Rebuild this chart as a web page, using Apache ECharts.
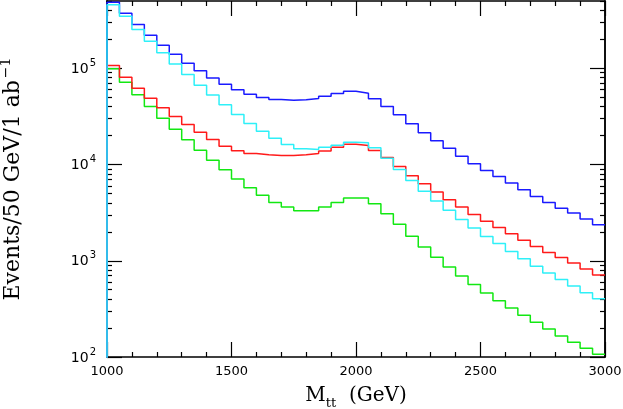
<!DOCTYPE html>
<html>
<head>
<meta charset="utf-8">
<script src="https://cdn.jsdelivr.net/npm/echarts@6/dist/echarts.min.js"></script>
<style>
  html, body { margin: 0; padding: 0; background: #fff; }
  #main { width: 623px; height: 409px; }
</style>
</head>
<body>
<div id="main"></div>
<script>
// bins: 50 GeV wide, from 1000 to 3000 GeV
var binStart = 1000;
var binWidth = 50;

var blueVals = [4.86e5, 3.73e5, 2.85e5, 2.21e5, 1.73e5, 1.40e5, 1.13e5, 9.4e4, 7.9e4, 6.84e4,
    5.98e4, 5.38e4, 4.98e4, 4.74e4, 4.66e4, 4.70e4, 4.86e4, 5.13e4, 5.47e4, 5.78e4,
    5.51e4, 4.82e4, 4.01e4, 3.29e4, 2.65e4, 2.14e4, 1.77e4, 1.48e4, 1.22e4, 1.02e4,
    8680, 7520, 6410, 5470, 4660, 4040, 3520, 3130, 2710, 2370];
var cyanVals = [4.56e5, 3.48e5, 2.53e5, 1.91e5, 1.45e5, 1.11e5, 8.63e4, 6.68e4, 5.26e4, 4.18e4,
    3.31e4, 2.67e4, 2.21e4, 1.87e4, 1.61e4, 1.46e4, 1.43e4, 1.51e4, 1.59e4, 1.70e4,
    1.68e4, 1.49e4, 1.16e4, 8890, 6840, 5290, 4170, 3340, 2690, 2190,
    1790, 1510, 1250, 1050, 875, 745, 637, 546, 466, 404];
var redVals = [1.07e5, 8.09e4, 6.21e4, 4.89e4, 3.89e4, 3.16e4, 2.61e4, 2.17e4, 1.82e4, 1.55e4,
    1.39e4, 1.30e4, 1.26e4, 1.24e4, 1.24e4, 1.26e4, 1.30e4, 1.38e4, 1.51e4, 1.62e4,
    1.58e4, 1.40e4, 1.18e4, 9550, 7650, 6320, 5170, 4310, 3610, 3030,
    2570, 2210, 1910, 1630, 1410, 1220, 1080, 946, 820, 711];
var greenVals = [9.88e4, 7.17e4, 5.31e4, 4.01e4, 3.03e4, 2.33e4, 1.81e4, 1.41e4, 1.11e4, 8830,
    7050, 5740, 4780, 4040, 3610, 3310, 3310, 3610, 4040, 4480,
    4480, 3920, 3080, 2390, 1800, 1390, 1090, 860, 693, 565,
    462, 385, 323, 271, 229, 195, 165, 142, 123, 107];

var yMajor = [100, 1000, 10000, 100000];
var yMinor = [200, 300, 400, 500, 600, 700, 800, 900,
    2000, 3000, 4000, 5000, 6000, 7000, 8000, 9000,
    20000, 30000, 40000, 50000, 60000, 70000, 80000, 90000,
    200000, 300000, 400000, 500000];

// histogram as step line: starts from below the axis so the left edge is drawn
function histData(vals) {
    var pts = [[binStart, 1]];
    for (var i = 0; i < vals.length; i++) {
        pts.push([binStart + i * binWidth, vals[i]]);
    }
    pts.push([binStart + vals.length * binWidth, vals[vals.length - 1]]);
    return pts;
}

function histSeries(vals, color) {
    return {
        type: 'line',
        step: 'end',
        showSymbol: false,
        symbol: 'none',
        clip: true,
        data: histData(vals),
        lineStyle: {color: color, width: 1.5},
        itemStyle: {color: color}
    };
}

var frame = {lineStyle: {color: '#000', width: 1.5}};

function logAxis(pos, ticks, len, labels) {
    return {
        type: 'log',
        position: pos,
        min: 100,
        max: 500000,
        axisLine: {show: true, onZero: false, lineStyle: frame.lineStyle},
        axisTick: {show: true, inside: true, length: len, customValues: ticks,
            lineStyle: {color: '#000', width: 1.2}},
        axisLabel: labels ? {
            show: true,
            customValues: yMajor,
            margin: 11,
            formatter: function (v) {
                return '{b|10}{s|' + Math.round(Math.log10(v)) + '}';
            },
            rich: {
                b: {fontFamily: 'DejaVu Sans', fontSize: 14, color: '#000', verticalAlign: 'bottom', lineHeight: 16},
                s: {fontFamily: 'DejaVu Sans', fontSize: 10, color: '#000', verticalAlign: 'bottom', lineHeight: 10, padding: [0, 0, 8, 1]}
            }
        } : {show: false},
        splitLine: {show: false},
        minorTick: {show: false}
    };
}

function valAxis(pos, labels) {
    return {
        type: 'value',
        position: pos,
        min: 1000,
        max: 3000,
        interval: 500,
        axisLine: {show: true, onZero: false, lineStyle: frame.lineStyle},
        axisTick: {show: true, inside: true, length: 15, lineStyle: {color: '#000', width: 1.2}},
        minorTick: {show: true, splitNumber: 5, length: 5, lineStyle: {color: '#000', width: 1.2}},
        axisLabel: labels ? {
            show: true, fontFamily: 'DejaVu Sans', fontSize: 13, color: '#000', margin: 8,
            formatter: function (v) { return String(v); }
        } : {show: false},
        splitLine: {show: false}
    };
}

var chart = echarts.init(document.getElementById('main'), null, {renderer: 'canvas'});

var xBottom = valAxis('bottom', true);
xBottom.name = '{m|M}{t|tt}{m|  (GeV)}';
xBottom.nameLocation = 'middle';
xBottom.nameGap = 27;
xBottom.nameTextStyle = {
    rich: {
        m: {fontFamily: 'DejaVu Serif', fontSize: 20, color: '#000', verticalAlign: 'bottom', lineHeight: 22},
        t: {fontFamily: 'DejaVu Serif', fontSize: 13, color: '#000', verticalAlign: 'bottom', lineHeight: 13, padding: [0, 0, -4, 0]}
    }
};

var yLeft = logAxis('left', yMajor, 15, true);
yLeft.name = '{m|Events/50 GeV/1 ab}{s|\u22121}';
yLeft.nameLocation = 'middle';
yLeft.nameGap = 83;
yLeft.nameTextStyle = {
    rich: {
        m: {fontFamily: 'DejaVu Serif', fontSize: 22, color: '#000', verticalAlign: 'bottom', lineHeight: 24},
        s: {fontFamily: 'DejaVu Serif', fontSize: 14, color: '#000', verticalAlign: 'bottom', lineHeight: 14, padding: [0, 0, 11, 2]}
    }
};

chart.setOption({
    animation: false,
    backgroundColor: '#fff',
    grid: {left: 107, right: 18, top: 1, bottom: 52, containLabel: false, outerBoundsMode: 'none'},
    xAxis: [xBottom, valAxis('top', false)],
    yAxis: [
        yLeft,
        logAxis('left', yMinor, 5, false),
        logAxis('right', yMajor, 15, false),
        logAxis('right', yMinor, 5, false)
    ],
    series: [
        histSeries(greenVals, '#12e812'),
        histSeries(redVals, '#ff1a1a'),
        histSeries(blueVals, '#1a1aff'),
        histSeries(cyanVals, '#2ef0f8')
    ]
});
</script>
</body>
</html>
